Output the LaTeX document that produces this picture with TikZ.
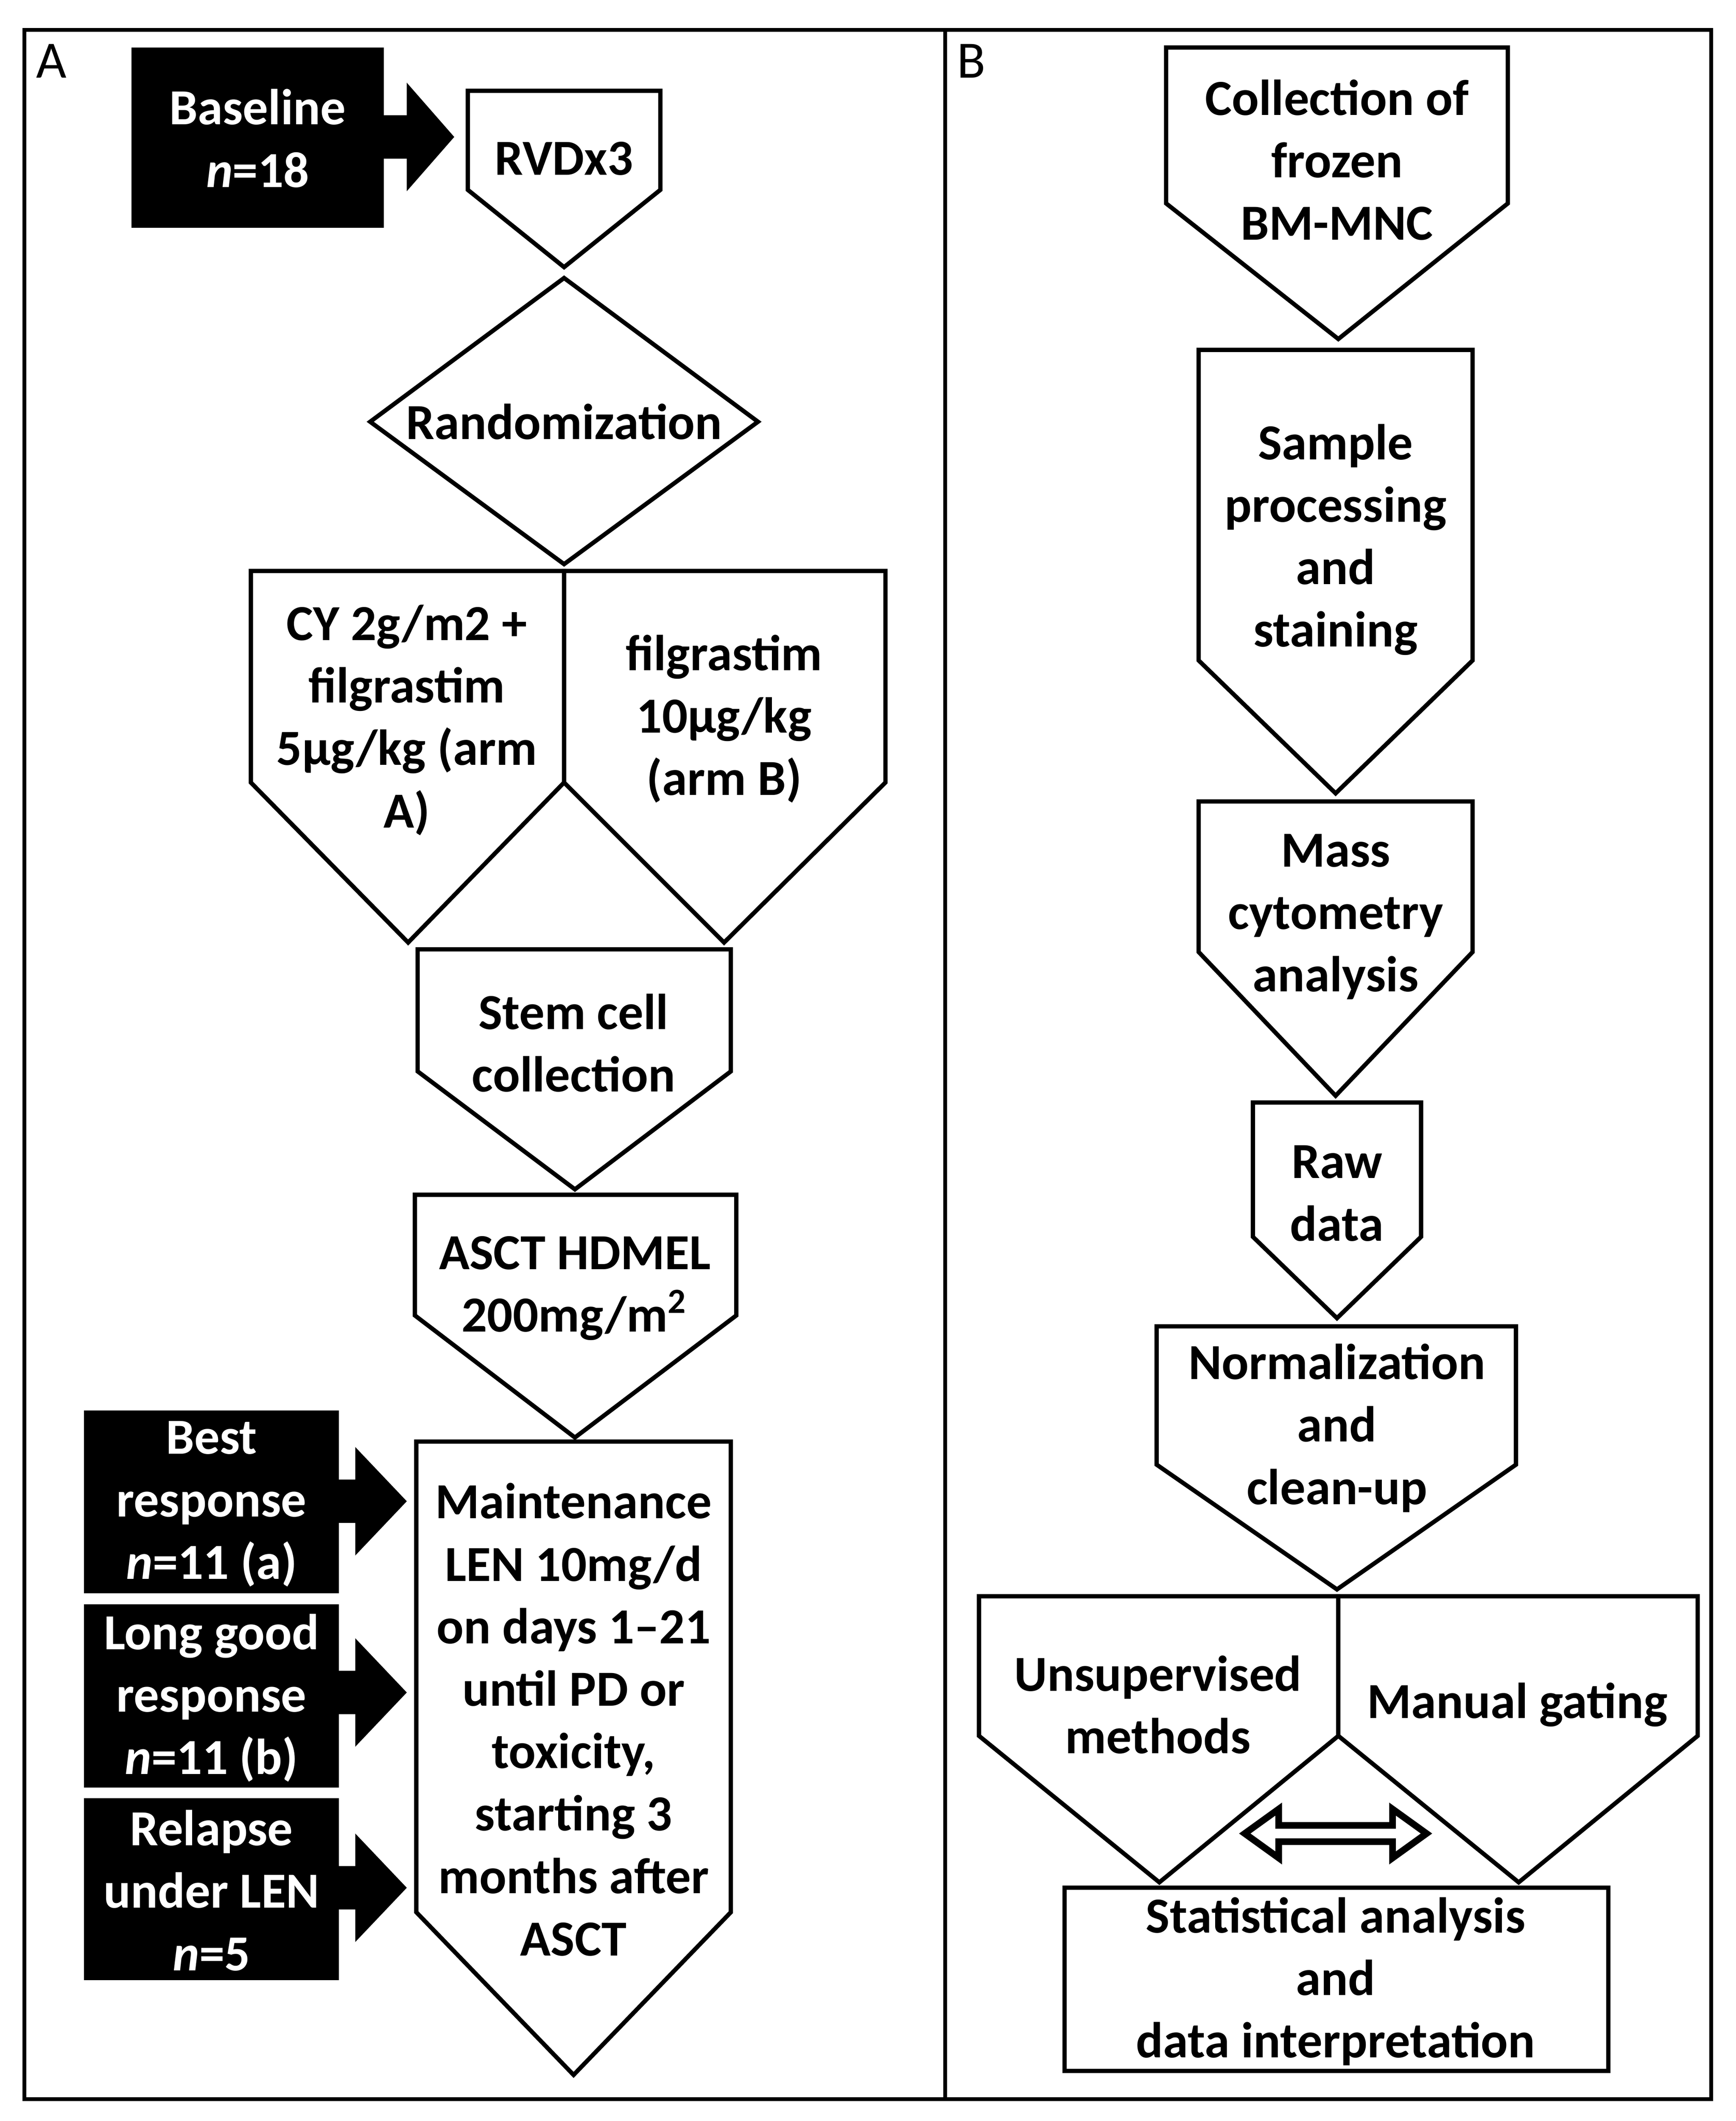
\documentclass[tikz,border=0pt]{standalone}
\usepackage{fontspec}
\setmainfont{Carlito}
\begin{document}
\begin{tikzpicture}[x=0.1mm,y=-0.1mm,line join=miter,
  box/.style={draw=black,line width=0.9pt,fill=white},
  txt/.style={align=center,font=\bfseries\fontsize{10.6}{13.1}\selectfont,inner sep=0pt},
  wtxt/.style={txt,text=white}]
\useasboundingbox (0,0) rectangle (1280,1564);
\fill[white] (0,0) rectangle (1280,1564);
\draw[line width=0.8pt] (18,22) rectangle (1262,1548);
\draw[line width=0.8pt] (697,22) -- (697,1548);
\node[font=\fontsize{11}{13}\selectfont,anchor=north west,inner sep=0pt] (lA) at (26,32) {A};
\node[font=\fontsize{11}{13}\selectfont,anchor=north west,inner sep=0pt] (lB) at (705,32) {B};
% pentagon macro: x1 x2 ytop yshoulder ytip xtip
\newcommand\pent[6]{\draw[box] (#1,#3) -- (#2,#3) -- (#2,#4) -- (#6,#5) -- (#1,#4) -- cycle;}
% black arrow boxes
\newcommand\blk[7]{\fill[black] (#1,#2) rectangle (#3,#4);
 \fill[black] (#3,#7-16) -- (#5,#7-16) -- (#5,#7-40) -- (#6,#7) -- (#5,#7+40) -- (#5,#7+16) -- (#3,#7+16) -- cycle;}
\blk{97}{35}{283}{168}{300}{335}{101}
\node[wtxt] (base) at (190,102) {Baseline\\\textit{n}=18};
\pent{345}{487}{67}{140}{197}{416}
\node[txt] (rvd) at (416,117) {RVDx3};
\draw[box] (273,311) -- (416,205) -- (559,311) -- (416,416) -- cycle;
\node[txt] (rand) at (416,311) {Randomization};
\pent{185}{416}{421}{577}{695}{301}
\pent{416}{653}{421}{577}{695}{534}
\node[txt] (cy) at (300,531) {CY 2g/m2 +\\filgrastim\\5µg/kg (arm\\A)};
\node[txt] (fil) at (534,530) {filgrastim\\10µg/kg\\(arm B)};
\pent{308}{539}{700}{790}{877}{424}
\node[txt] (stem) at (423,769) {Stem cell\\collection};
\pent{306}{543}{881}{970}{1060}{424}
\node[txt] (asct) at (424,950) {ASCT HDMEL\\200mg/m\textsuperscript{2}};
\pent{307}{539}{1063}{1410}{1530}{423}
\node[txt] (main) at (423,1268) {Maintenance\\LEN 10mg/d\\on days 1–21\\until PD or\\toxicity,\\starting 3\\months after\\ASCT};
\blk{62}{1040}{250}{1175}{262}{300}{1107}
\node[wtxt] (best) at (156,1109) {Best\\response\\\textit{n}=11 (a)};
\blk{62}{1183}{250}{1318}{262}{300}{1248}
\node[wtxt] (long) at (156,1252) {Long good\\response\\\textit{n}=11 (b)};
\blk{62}{1326}{250}{1460}{262}{300}{1392}
\node[wtxt] (rel) at (156,1394) {Relapse\\under LEN\\\textit{n}=5};
% panel B
\pent{860}{1112}{35}{150}{250}{987}
\node[txt] (coll) at (986,118) {Collection of\\frozen\\BM-MNC};
\pent{884}{1086}{258}{487}{585}{985}
\node[txt] (samp) at (985,398) {Sample\\processing\\and\\staining};
\pent{884}{1086}{591}{702}{808}{985}
\node[txt] (mass) at (985,676) {Mass\\cytometry\\analysis};
\pent{924}{1048}{813}{912}{972}{986}
\node[txt] (raw) at (986,880) {Raw\\data};
\pent{853}{1118}{978}{1080}{1172}{986}
\node[txt] (norm) at (986,1053) {Normalization\\and\\clean-up};
\pent{722}{987}{1177}{1280}{1388}{855}
\pent{987}{1252}{1177}{1280}{1388}{1120}
\node[txt] (uns) at (854,1257) {Unsupervised\\methods};
\node[txt] (man) at (1119,1257) {Manual gating};
\draw[box,line width=1.4pt] (918,1352) -- (943,1334) -- (943,1346) -- (1027,1346) -- (1027,1334) -- (1052,1352) -- (1027,1370) -- (1027,1358) -- (943,1358) -- (943,1370) -- cycle;
\draw[box] (785,1392) rectangle (1186,1527);
\node[txt] (stat) at (985,1461) {Statistical analysis\\and\\data interpretation};
\end{tikzpicture}
\end{document}
